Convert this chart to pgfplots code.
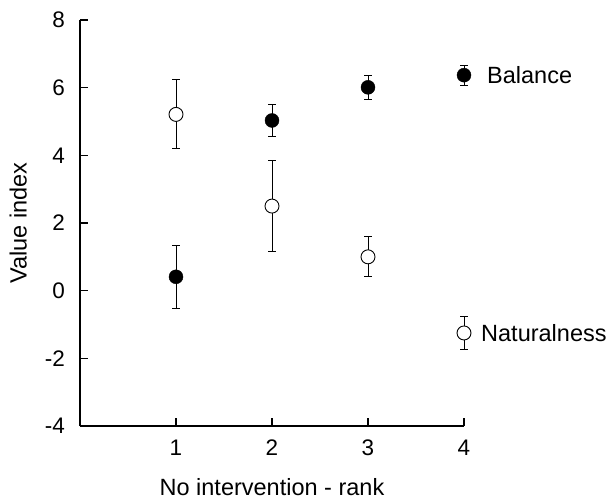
\documentclass[border=0pt]{standalone}
\usepackage{pgfplots}
\pgfplotsset{compat=1.18}
\usepackage{fontspec}
\setmainfont{Liberation Sans}
\begin{document}
\begin{tikzpicture}
\begin{axis}[
  scale only axis,
  width=384pt, height=406pt,
  xmin=0, xmax=4, ymin=-4, ymax=8,
  axis x line*=bottom, axis y line*=left,
  axis line style={line width=1.3pt},
  tick align=inside,
  major tick length=8pt,
  tick style={line width=1.1pt, black},
  xtick={1,2,3,4}, ytick={-4,-2,0,2,4,6,8},
  xticklabels={1,2,3,4},
  yticklabels={-4,-2,0,2,4,6,8},
  /pgf/number format/assume math mode=true,
  tick label style={font=\fontsize{22.5}{26}\selectfont},
  xticklabel style={inner sep=0pt, anchor=north, yshift=-14pt},
  yticklabel style={inner sep=0pt, anchor=east, xshift=-15pt},
  xlabel={No intervention - rank},
  ylabel={Value index},
  label style={font=\fontsize{23.5}{27}\selectfont},
  xlabel style={at={(axis description cs:0.5,0)}, anchor=base, inner sep=0pt, yshift=-69pt},
  ylabel style={at={([xshift=-53pt]axis description cs:0,0.5)}, anchor=south, inner sep=0pt},
  clip=false,
  error bars/y dir=both, error bars/y explicit,
  error bars/error bar style={line width=0.9pt, black},
  error bars/error mark options={rotate=90, mark size=3.6pt, line width=0.9pt, black},
]
% Balance (filled)
\addplot[only marks, mark=*, mark size=7pt, mark options={fill=black, draw=black}]
  coordinates {(1,0.41) +- (0,0.94) (2,5.03) +- (0,0.47) (3,6.01) +- (0,0.36)};
% Naturalness (open)
\addplot[only marks, mark=*, mark size=7pt, mark options={fill=white, draw=black, line width=0.9pt}]
  coordinates {(1,5.21) +- (0,1.02) (2,2.50) +- (0,1.34) (3,1.00) +- (0,0.59)};
% legend key markers
\addplot[only marks, mark=*, mark size=7pt, mark options={fill=black, draw=black}]
  coordinates {(4,6.37) +- (0,0.30)};
\addplot[only marks, mark=*, mark size=7pt, mark options={fill=white, draw=black, line width=0.9pt}]
  coordinates {(4,-1.25) +- (0,0.48)};
\node[anchor=west, inner sep=0pt, font=\fontsize{23.5}{27}\selectfont] at (axis cs:4,6.37) [xshift=23pt] {Balance};
\node[anchor=west, inner sep=0pt, font=\fontsize{23.5}{27}\selectfont] at (axis cs:4,-1.25) [xshift=17pt] {Naturalness};
\end{axis}
\path (-80pt,-73pt) rectangle (533pt,426pt);
\end{tikzpicture}
\end{document}
